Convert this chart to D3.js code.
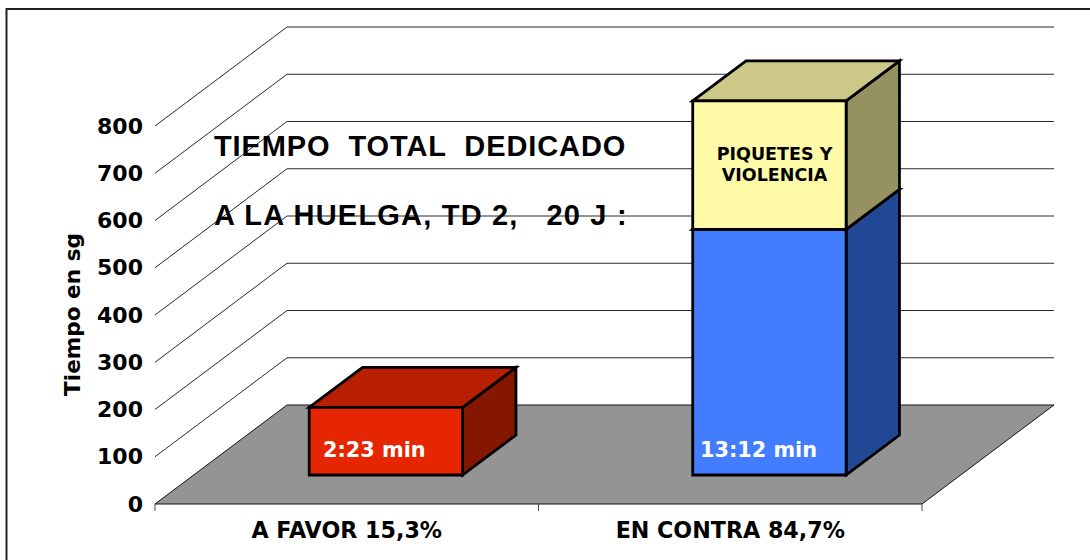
<html>
<head>
<script src="https://d3js.org/d3.v7.min.js"></script>
<style>
    html, body {
        width: 100%;
        height: 100%;
        margin: 0;
        padding: 0;
        background: white;
    }
    svg { display: block; }
    text { font-family: "DejaVu Sans", sans-serif; font-weight: bold; }
</style>
</head>
<body>
<script>
    var categories = ["A FAVOR 15,3%", "EN CONTRA 84,7%"];
    var yTicks = [0, 100, 200, 300, 400, 500, 600, 700, 800];
    var tiempoBase = [143, 520];      // seconds, bottom block
    var tiempoPiquetes = [0, 272];    // seconds, top block
    var baseLabels = ["2:23 min", "13:12 min"];
    var baseColors = [
        { front: "#e62600", top: "#b81e00", side: "#851600" },
        { front: "#437dff", top: "#3564cc", side: "#224794" }
    ];
    var topColors = { front: "#fffaa8", top: "#cbc888", side: "#959160" };
    var titleLines = ["TIEMPO  TOTAL  DEDICADO", "A LA HUELGA, TD 2,   20 J :"];
    var titleSpacing = ["0.9px", "1.2px"];

    var width = 1090;
    var height = 560;

    // oblique projection of the 3d box
    var depthX = 132, depthY = -99;
    var barFront = 29 / 99, barBack = 69 / 99;

    var svg = d3.select("body").append("svg")
    .attr("width", width)
    .attr("height", height);

    var x = d3.scaleBand().domain(categories).range([155, 922]);
    var y = d3.scaleLinear().domain([0, 800]).range([504, 126]);
    var barWidth = x.bandwidth() * 0.4;

    function pt(px, py, d) {
        return [px + depthX * d, py + depthY * d];
    }
    function poly(parent, points, fill, stroke, sw) {
        return parent.append("polygon")
        .attr("points", points.map(function (p) { return p.join(","); }).join(" "))
        .attr("fill", fill)
        .attr("stroke", stroke)
        .attr("stroke-width", sw)
        .attr("stroke-linejoin", "miter");
    }

    // frame
    svg.append("rect")
    .attr("x", 6.5).attr("y", 9)
    .attr("width", 1200).attr("height", 600)
    .attr("fill", "white")
    .attr("stroke", "#222")
    .attr("stroke-width", 2);

    // walls
    var grid = svg.append("g");
    yTicks.slice(1).forEach(function (v) {
        var a = pt(155, y(v), 0), b = pt(155, y(v), 1), c = pt(922, y(v), 1);
        grid.append("polyline")
        .attr("points", [a, b, c].join(" "))
        .attr("fill", "none")
        .attr("stroke", "#111")
        .attr("stroke-width", 0.9);
    });

    // floor
    poly(svg, [pt(155, y(0), 0), pt(155, y(0), 1), pt(922, y(0), 1), pt(922, y(0), 0)], "#949494", "#111", 1);

    // axes
    var yAxis = svg.append("g")
    .attr("transform", "translate(155,0)")
    .call(d3.axisLeft(y).tickValues(yTicks).tickSize(0).tickPadding(12));
    yAxis.select(".domain").remove();
    yAxis.selectAll("text")
    .style("font-family", '"DejaVu Sans", sans-serif')
    .style("font-size", "22px")
    .style("font-weight", "bold")
    .attr("fill", "#000");

    var xAxis = svg.append("g")
    .attr("transform", "translate(0,504)")
    .call(d3.axisBottom(x).tickSize(0).tickPadding(18));
    xAxis.select(".domain").remove();
    xAxis.selectAll("text")
    .style("font-family", '"DejaVu Sans", sans-serif')
    .style("font-size", "22.2px")
    .style("font-weight", "bold")
    .attr("fill", "#000");
    [155, 155 + x.bandwidth(), 922].forEach(function (px) {
        svg.append("line")
        .attr("x1", px).attr("x2", px)
        .attr("y1", 504).attr("y2", 511)
        .attr("stroke", "#444")
        .attr("stroke-width", 1);
    });

    svg.append("text")
    .attr("transform", "translate(80,314.5) rotate(-90)")
    .attr("text-anchor", "middle")
    .style("font-size", "21.6px")
    .text("Tiempo en sg");

    // one box of the stacked bar
    function box(x0, v0, v1, col) {
        var x1 = x0 + barWidth;
        var fl = pt(x0, y(v0), barFront), fr = pt(x1, y(v0), barFront);
        var tl = pt(x0, y(v1), barFront), tr = pt(x1, y(v1), barFront);
        var tlb = pt(x0, y(v1), barBack), trb = pt(x1, y(v1), barBack), frb = pt(x1, y(v0), barBack);
        poly(svg, [tr, trb, frb, fr], col.side, "#000", 2.8);
        poly(svg, [tl, tlb, trb, tr], col.top, "#000", 2.8);
        poly(svg, [fl, tl, tr, fr], col.front, "#000", 2.8);
    }

    categories.forEach(function (c, i) {
        var x0 = x(c) + (x.bandwidth() - barWidth) / 2 + 0.5;
        box(x0, 0, tiempoBase[i], baseColors[i]);
        if (tiempoPiquetes[i] > 0) {
            box(x0, tiempoBase[i], tiempoBase[i] + tiempoPiquetes[i], topColors);
        }
    });

    // labels on the bars
    svg.selectAll("text.val")
    .data(baseLabels)
    .enter().append("text")
    .attr("class", "val")
    .attr("x", function (d, i) { return i == 0 ? 323 : 700; })
    .attr("y", 457)
    .attr("fill", "white")
    .style("font-size", "20.8px")
    .text(function (d) { return d; });

    svg.append("text").attr("x", 774.5).attr("y", 160)
    .attr("text-anchor", "middle")
    .style("font-size", "17.5px")
    .text("PIQUETES Y");
    svg.append("text").attr("x", 774.5).attr("y", 181)
    .attr("text-anchor", "middle")
    .style("font-size", "17.5px")
    .text("VIOLENCIA");

    // title
    titleLines.forEach(function (t, i) {
        svg.append("text")
        .attr("x", 214)
        .attr("y", i == 0 ? 156 : 225)
        .attr("xml:space", "preserve")
        .style("white-space", "pre")
        .style("font-family", '"Liberation Sans", sans-serif')
        .style("font-size", "29px")
        .style("letter-spacing", titleSpacing[i])
        .text(t);
    });
</script>
</body>
</html>
